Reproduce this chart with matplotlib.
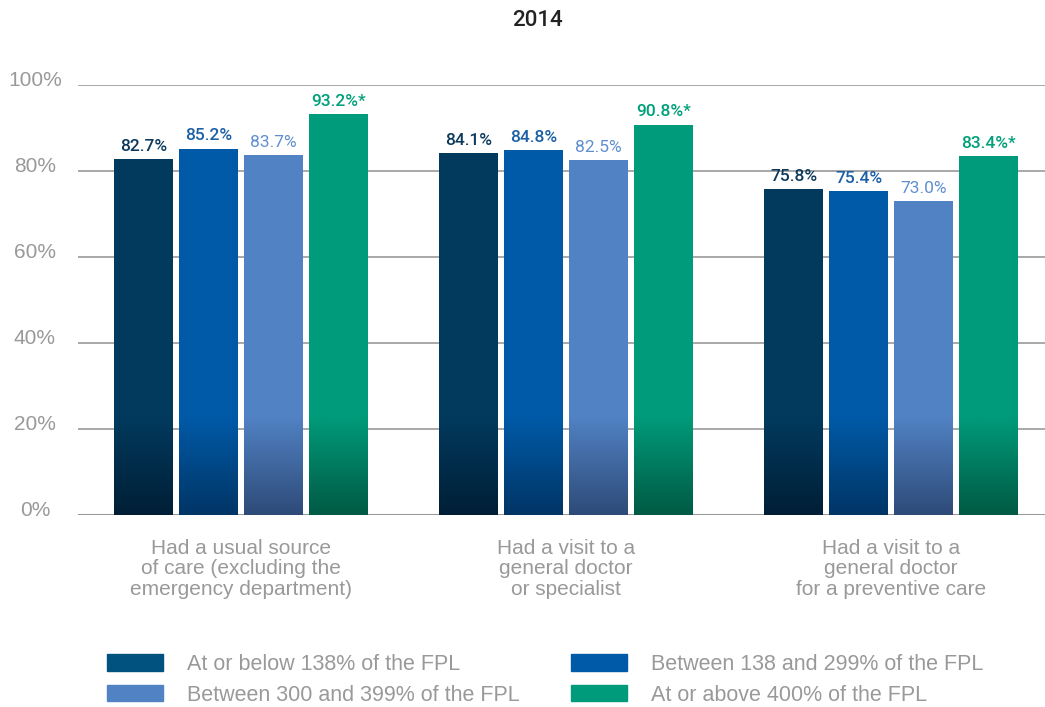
import numpy as np
import matplotlib.pyplot as plt
from matplotlib.patches import Patch
from matplotlib.colors import to_rgb

plt.rcParams['font.family'] = ['Liberation Sans', 'DejaVu Sans']

# Data
categories = ["Had a usual source\nof care (excluding the\nemergency department)",
              "Had a visit to a\ngeneral doctor\nor specialist",
              "Had a visit to a\ngeneral doctor\nfor a preventive care"]
series = ["At or below 138% of the FPL",
          "Between 138 and 299% of the FPL",
          "Between 300 and 399% of the FPL",
          "At or above 400% of the FPL"]
values = [[82.7, 84.1, 75.8],
          [85.2, 84.8, 75.4],
          [83.7, 82.5, 73.0],
          [93.2, 90.8, 83.4]]
significant = [False, False, False, True]
yticks = [0, 20, 40, 60, 80, 100]

bar_top = ['#023a5e', '#005aa8', '#5182c4', '#009b7a']
bar_bottom = ['#001f36', '#003566', '#2e4b78', '#005a44']
legend_colors = ['#02527f', '#005aa8', '#5182c4', '#009b7a']
label_colors = ['#0d3a5c', '#1d5fa5', '#5f8fcf', '#00a07a']
gray = '#999999'

fig = plt.figure(figsize=(10.45, 7.07), dpi=100)
ax = fig.add_axes([78/1045, 1-515/707, 1-78/1045, (515-85)/707])

x = np.arange(len(categories))
offsets = [-0.3, -0.1, 0.1, 0.3]
width = 0.18

for i in range(len(series)):
    bars = ax.bar(x + offsets[i], values[i], width, color=bar_top[i], zorder=3)
    # dark gradient at the bottom of each bar
    c1 = np.array(to_rgb(bar_top[i]))
    c0 = np.array(to_rgb(bar_bottom[i]))
    t = np.linspace(0, 1, 64)[:, None]
    grad = (c0 * (1 - t) + c1 * t)[:, None, :]
    for b in bars:
        ax.imshow(grad, extent=[b.get_x(), b.get_x() + b.get_width(), 0, 23],
                  origin='lower', aspect='auto', interpolation='bilinear', zorder=4)
    for xi, v in zip(x + offsets[i], values[i]):
        txt = "{:.1f}%".format(v) + ("*" if significant[i] else "")
        ax.text(xi, v + 1.2, txt, ha='center', va='bottom', fontsize=12.5,
                family=['Roboto', 'DejaVu Sans'],
                color=label_colors[i], fontweight='medium' if i != 2 else 'normal', zorder=5)

ax.set_xlim(-0.5015, -0.5015 + 967/325)
ax.set_ylim(0, 100)
for s in ax.spines.values():
    s.set_visible(False)
ax.set_xticks([])
ax.set_yticks([])
for yv in yticks:
    ax.axhline(yv, color=gray, lw=2.2 if yv == 0 else 1.2, zorder=2)
    fig.text(35/1045, 1 - (515 - 4.3*yv + 1) / 707, "{:d}%".format(yv),
             ha='center', va='baseline', fontsize=15, color=gray)

for xi, cat in zip(x, categories):
    ax.text(xi, -5.5, cat, ha='center', va='top', fontsize=15, color=gray,
            linespacing=1.12)

fig.text(537/1045, 1 - 20/707, "2014", ha='center', va='center', fontsize=16,
         family=['Roboto', 'DejaVu Sans'], fontweight='medium', color='#222222')

order = [0, 2, 1, 3]
handles = [Patch(color=legend_colors[k]) for k in order]
labels = [series[k] for k in order]
fig.legend(handles, labels, ncol=2, loc='upper left', bbox_to_anchor=(107/1045, 1 - 654/707),
           frameon=False, fontsize=15.5, handlelength=2.6, handleheight=0.8,
           handletextpad=1.1, columnspacing=2.4, labelspacing=0.45, borderpad=0,
           borderaxespad=0, labelcolor=gray)

fig.savefig('out.png', dpi=100)
